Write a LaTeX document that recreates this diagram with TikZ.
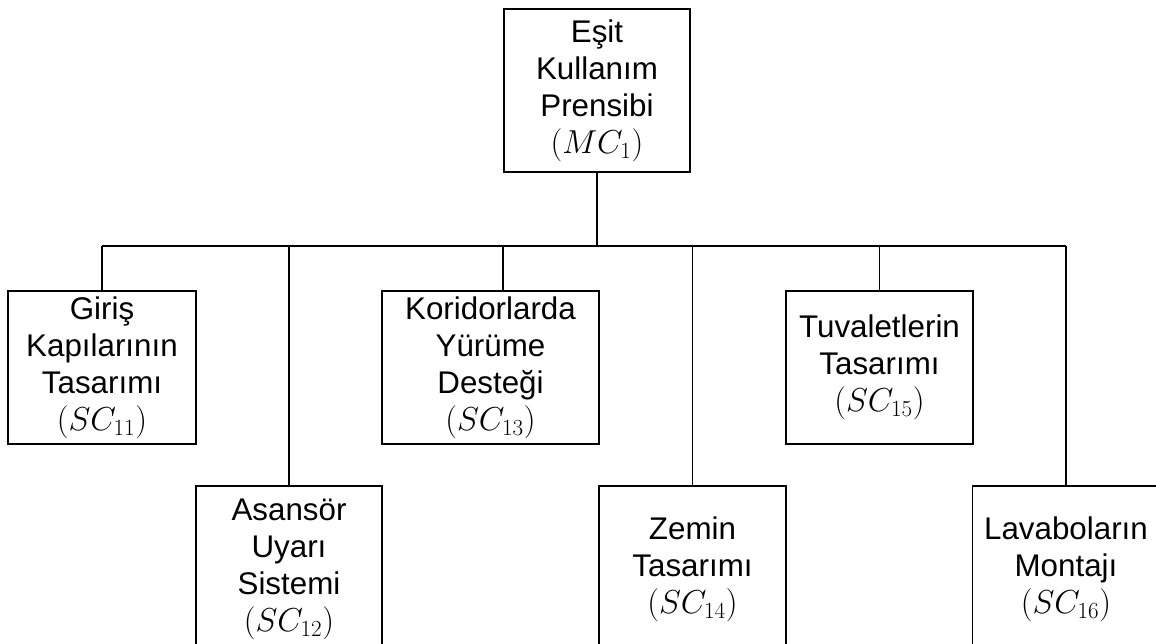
\documentclass[tikz,border=0pt]{standalone}
\usepackage{fontspec}
\setmainfont{Liberation Sans}
\usetikzlibrary{positioning,calc}

\begin{document}
\begin{tikzpicture}[x=0.75pt, y=-0.75pt,
    crit/.style={draw, line width=1.4pt, align=center, inner sep=0pt,
        font=\fontsize{23.5}{27.8}\selectfont},
    main/.style={crit, minimum width=139.5pt, minimum height=122.25pt},
    subup/.style={crit, minimum width=140.25pt, minimum height=114.75pt},
    sublow/.style={crit, minimum width=140.25pt, minimum height=124.5pt},
    link/.style={line width=1.4pt}]
    \useasboundingbox (0,0) rectangle (1156,643);
    \clip (0,0) rectangle (1156,643);

    % Main criterion
    \node [main] (mc1) at (597,90.5) {Eşit\\Kullanım\\Prensibi\\$(MC_1)$};

    % Sub criteria, upper row
    \node [subup, minimum width=141pt] (sc11) at (102,367.5) {Giriş\\Kapılarının\\Tasarımı\\$(SC_{11})$};
    \node [subup, minimum width=162.75pt] (sc13) at (490.5,367.5) {Koridorlarda\\Yürüme\\Desteği\\$(SC_{13})$};
    \node [subup] (sc15) at (879.5,367.5) {Tuvaletlerin\\Tasarımı\\$(SC_{15})$};

    % Sub criteria, lower row
    \node [sublow, minimum width=139.5pt] (sc12) at (289,569) {Asansör\\Uyarı\\Sistemi\\$(SC_{12})$};
    \node [sublow] (sc14) at (692.5,569) {Zemin\\Tasarımı\\$(SC_{14})$};
    \node [sublow] (sc16) at (1066,569) {Lavaboların\\Montajı\\$(SC_{16})$};

    % Connectors
    \coordinate (bus) at (0,246);
    \draw [link] (mc1.south) -- (mc1.south |- bus);
    \draw [link] (sc11.north |- bus) -- (sc16.north |- bus);
    \foreach \c in {sc11,sc12,sc14,sc15,sc16}
        \draw [link] (\c.north) -- (\c.north |- bus);
    \draw [link] ([xshift=9.4pt]sc13.north) -- ([xshift=9.4pt]sc13.north |- bus);
\end{tikzpicture}
\end{document}
